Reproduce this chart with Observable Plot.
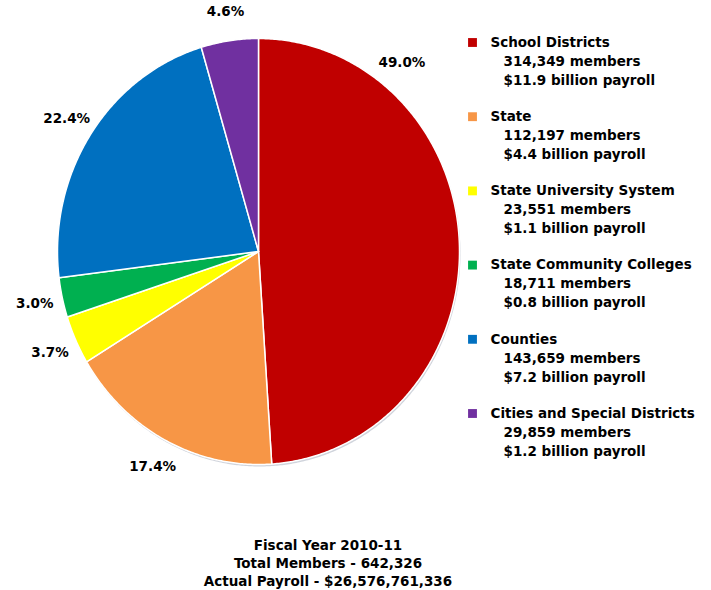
<!DOCTYPE html>
<html><head><meta charset="utf-8">
<script src="https://cdn.jsdelivr.net/npm/d3@7"></script>
<script src="https://cdn.jsdelivr.net/npm/@observablehq/plot@0.6"></script>
<style>
body{margin:0;background:#fff;font-family:"DejaVu Sans",Arial,sans-serif}
#cap{width:656px;text-align:center;font-weight:bold;font-size:13.5px;line-height:18px;margin-top:6px;color:#000}
</style></head>
<body><div id="chart"></div><div id="cap"></div>
<script>
const categories = ["School Districts","State","State University System","State Community Colleges","Counties","Cities and Special Districts"];
const percents = [49.0, 17.4, 3.7, 3.0, 22.4, 4.6];
const members = ["314,349","112,197","23,551","18,711","143,659","29,859"];
const payroll = ["$11.9","$4.4","$1.1","$0.8","$7.2","$1.2"];
const colors = ["#C00000","#F79646","#FFFF00","#00B050","#0070C0","#7030A0"];
const captionLines = ["Fiscal Year 2010-11","Total Members - 642,326","Actual Payroll - $26,576,761,336"];

const W = 711, H = 530;
const cx = 258, cy = 251, rx = 201, ry = 213;
const total = d3.sum(percents);
const pt = (a, k = 1) => [cx + rx * k * Math.sin(a), cy - ry * k * Math.cos(a)];

const slices = [], labels = [], shadow = [];
let cum = 0;
categories.forEach((name, i) => {
  const a0 = cum / total * 2 * Math.PI;
  cum += percents[i];
  const a1 = cum / total * 2 * Math.PI;
  const n = Math.max(2, Math.ceil((a1 - a0) / (Math.PI / 360)));
  slices.push({name, x: cx, y: cy});
  for (let j = 0; j <= n; j++) {
    const [x, y] = pt(a0 + (a1 - a0) * j / n);
    slices.push({name, x, y});
  }
  slices.push({name, x: cx, y: cy});
  const la = percents[i] > 40 ? a0 + 0.22 * (a1 - a0) : (a0 + a1) / 2;
  const [lx, ly] = pt(la, 1.14);
  labels.push({x: lx, y: ly, text: percents[i].toFixed(1) + "%"});
});
for (let j = 0; j <= 720; j++) {
  const [x, y] = pt(j / 720 * 2 * Math.PI, 1.0);
  shadow.push({x: x + 1, y: y + 2});
}

const legendTop = 42, legendStep = 74.2, lineGap = 19;
const legend = categories.map((name, i) => ({name, i, y: legendTop + legendStep * i}));
const legendLines = legend.flatMap(d => [
  {x: 490, y: d.y, text: d.name},
  {x: 503, y: d.y + lineGap, text: `${members[d.i]} members`},
  {x: 503, y: d.y + 2 * lineGap, text: `${payroll[d.i]} billion payroll`}
]);

const chart = Plot.plot({
  width: W, height: H,
  margin: 0,
  x: {domain: [0, W], range: [0, W], axis: null},
  y: {domain: [0, H], range: [0, H], axis: null},
  color: {domain: categories, range: colors},
  style: {fontFamily: '"DejaVu Sans", Arial, sans-serif', background: "#fff"},
  marks: [
    Plot.line(shadow, {x: "x", y: "y", fill: "#d0d4dc", stroke: "none"}),
    Plot.line(slices, {x: "x", y: "y", z: "name", fill: "name", stroke: "white", strokeWidth: 1.5, strokeLinejoin: "round"}),
    Plot.text(labels, {x: "x", y: "y", text: "text", fontWeight: "bold", fontSize: 13.5, fill: "black", textAnchor: "middle"}),
    Plot.dot(legend, {x: 472, y: "y", symbol: "square", r: 5, fill: "name", stroke: "none"}),
    Plot.text(legendLines, {x: "x", y: "y", text: "text", fontWeight: "bold", fontSize: 13.5, fill: "black", textAnchor: "start"})
  ]
});
document.getElementById("chart").appendChild(chart);
document.getElementById("cap").innerHTML = captionLines.map(s => `<div>${s}</div>`).join("");
</script>
</body></html>
